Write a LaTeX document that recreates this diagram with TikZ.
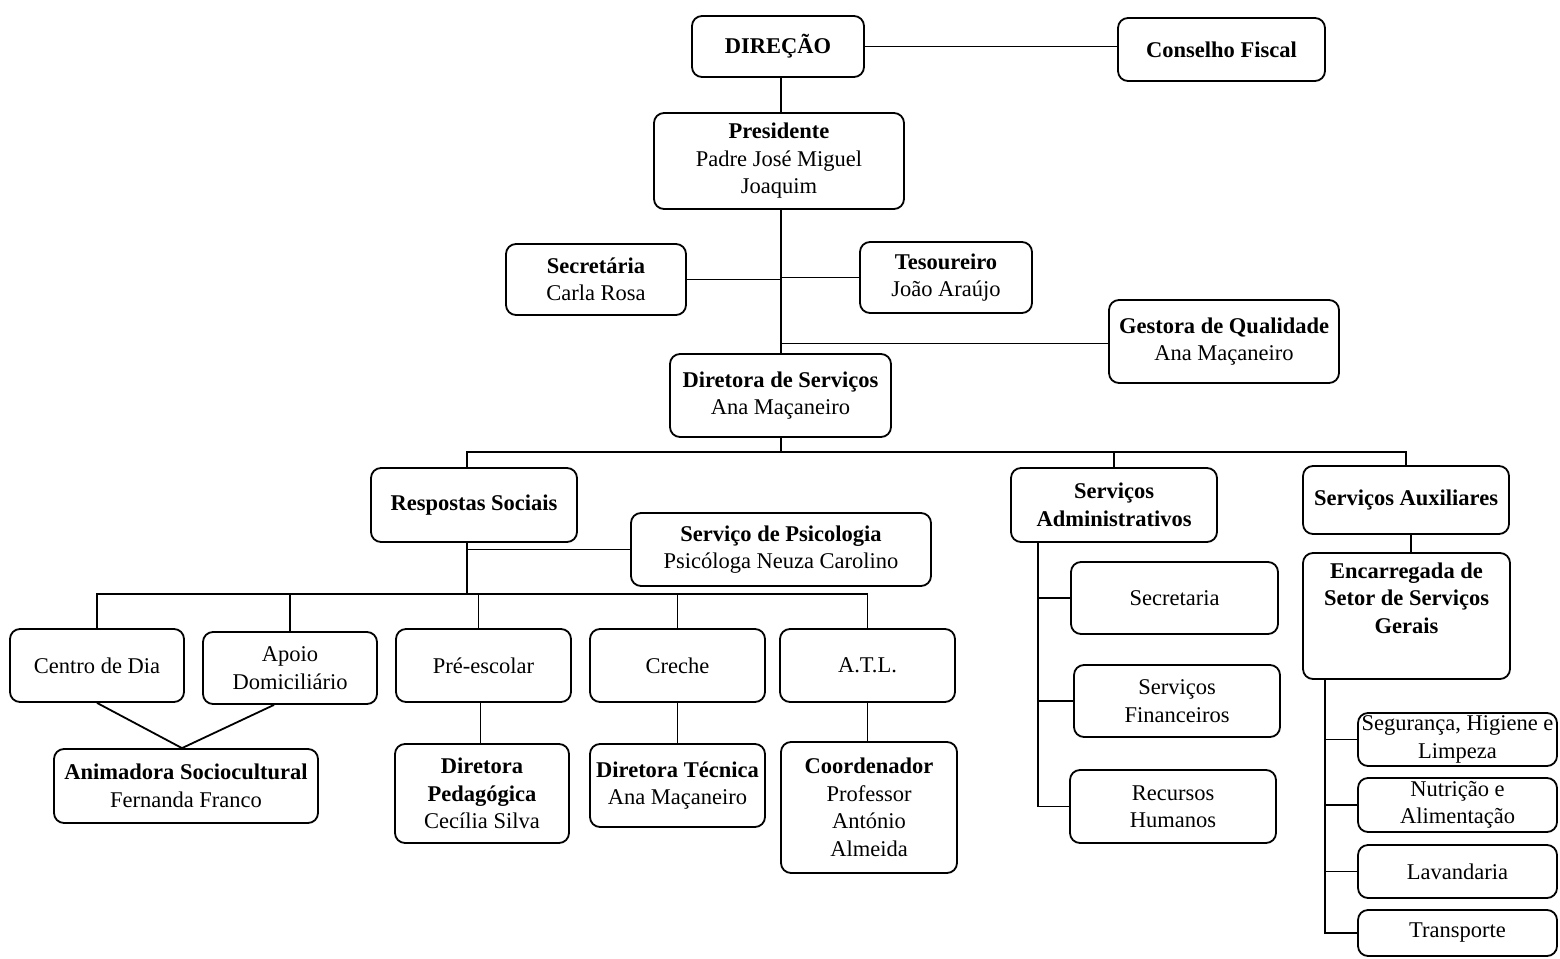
\documentclass[tikz,border=0pt]{standalone}
\usepackage{fontspec}
\setmainfont{Liberation Serif}
\newcommand\orgfont{\fontsize{22.5}{27.5}\selectfont}
\newcommand\orgbox[6]{\node[box,minimum width={(#4)-(#2)},minimum height={(#5)-(#3)}] (#1) at ({((#2)+(#4))/2},{((#3)+(#5))/2}) {#6};}
\begin{document}
\begin{tikzpicture}[x=1pt,y=-1pt,
  box/.style={draw=black, line width=1.8pt, rounded corners=10pt, inner sep=0pt, align=center, font=\orgfont},
  conn/.style={draw=black, line width=1.8pt}]
\useasboundingbox (0,0) rectangle (1560,958);
\orgbox{dir}{692}{16}{864}{77}{\textbf{DIREÇÃO}}
\orgbox{cf}{1118}{18}{1325}{81}{\textbf{Conselho Fiscal}}
\orgbox{pres}{654}{113}{904}{209}{\textbf{Presidente}\\Padre José Miguel\\Joaquim}
\orgbox{sec}{506}{244}{686}{315}{\textbf{Secretária}\\Carla Rosa}
\orgbox{tes}{860}{242}{1032}{313}{\textbf{Tesoureiro}\\João Araújo}
\orgbox{gq}{1109}{300}{1339}{383}{\textbf{Gestora de Qualidade}\\Ana Maçaneiro}
\orgbox{ds}{670}{354}{891}{437}{\textbf{Diretora de Serviços}\\Ana Maçaneiro}
\orgbox{rs}{371}{468}{577}{542}{\textbf{Respostas Sociais}}
\orgbox{psi}{631}{513}{931}{586}{\textbf{Serviço de Psicologia}\\Psicóloga Neuza Carolino}
\orgbox{sadm}{1011}{468}{1217}{542}{\textbf{Serviços}\\\textbf{Administrativos}}
\orgbox{saux}{1303}{466}{1509}{534}{\textbf{Serviços Auxiliares}}
\orgbox{cd}{10}{629}{184}{702}{Centro de Dia}
\orgbox{ad}{203}{632}{377}{704}{Apoio\\Domiciliário}
\orgbox{pe}{396}{629}{571}{702}{Pré-escolar}
\orgbox{cr}{590}{629}{765}{702}{Creche}
\orgbox{atl}{780}{629}{955}{702}{A.T.L.}
\orgbox{an}{54}{749}{318}{823}{\textbf{Animadora Sociocultural}\\Fernanda Franco}
\orgbox{dp}{395}{744}{569}{843}{\textbf{Diretora}\\\textbf{Pedagógica}\\Cecília Silva}
\orgbox{dt}{590}{744}{765}{827}{\textbf{Diretora Técnica}\\Ana Maçaneiro}
\orgbox{co}{781}{742}{957}{873}{\textbf{Coordenador}\\Professor\\António\\Almeida}
\orgbox{secr}{1071}{562}{1278}{634}{Secretaria}
\orgbox{sf}{1074}{665}{1280}{737}{Serviços\\Financeiros}
\orgbox{rh}{1070}{770}{1276}{843}{Recursos\\Humanos}
\orgbox{enc}{1303}{553}{1510}{679}{\raisebox{16pt}[\height][\depth]{\begin{tabular}{@{}c@{}}\textbf{Encarregada de}\\\textbf{Setor de Serviços}\\\textbf{Gerais}\end{tabular}}}
\orgbox{shl}{1358}{713}{1557}{766}{Segurança, Higiene e\\Limpeza}
\orgbox{na}{1358}{778}{1557}{832}{Nutrição e\\Alimentação}
\orgbox{lav}{1358}{845}{1557}{898}{Lavandaria}
\orgbox{tr}{1358}{910}{1557}{956}{Transporte}
% top connectors
\draw[conn] (dir.east) -- (dir.east -| cf.west);
\coordinate (tk) at (781,0);
\draw[conn] (tk |- dir.south) -- (tk |- pres.north);
\draw[conn] (tk |- pres.south) -- (tk |- ds.north);
\draw[conn] (sec.east) -- (sec.east -| tk);
\draw[conn] (tes.west) -- (tes.west -| tk);
\draw[conn] ([yshift=-2pt]gq.west) -- ([yshift=-2pt]gq.west -| tk);
% bus 1
\coordinate (b1) at (0,452);
\draw[conn] (tk |- ds.south) -- (tk |- b1);
\coordinate (rst) at ([xshift=-7pt]rs.south);
\draw[conn] (rst |- rs.north) -- (rst |- b1) -- (saux.north |- b1) -- (saux.north);
\draw[conn] (sadm.north) -- (sadm.north |- b1);
% bus 2
\coordinate (b2) at (0,594);
\draw[conn] (rst) -- (rst |- b2);
\draw[conn] (psi.west) -- (psi.west -| rst);
\draw[conn] (cd.north) -- (cd.north |- b2) -- (atl.north |- b2) -- (atl.north);
\draw[conn] (ad.north) -- (ad.north |- b2);
\draw[conn] ([xshift=-5pt]pe.north) -- ([xshift=-5pt]pe.north |- b2);
\draw[conn] (cr.north) -- (cr.north |- b2);
\draw[conn] (cd.south) -- ([xshift=-4pt]an.north) -- ([xshift=-16pt]ad.south);
\draw[conn] ([xshift=-3pt]pe.south) -- ([xshift=-3pt]pe.south |- dp.north);
\draw[conn] (cr.south) -- (cr.south |- dt.north);
\draw[conn] (atl.south) -- (atl.south |- co.north);
% administrative
\coordinate (st) at ([xshift=28pt]sadm.south west);
\draw[conn] (st) |- (rh.west);
\draw[conn] (secr.west) -- (secr.west -| st);
\draw[conn] (sf.west) -- (sf.west -| st);
% auxiliary
\draw[conn] ([xshift=5pt]saux.south) -- ([xshift=5pt]saux.south |- enc.north);
\coordinate (et) at ([xshift=23pt]enc.south west);
\draw[conn] (et) |- (tr.west);
\draw[conn] (shl.west) -- (shl.west -| et);
\draw[conn] (na.west) -- (na.west -| et);
\draw[conn] (lav.west) -- (lav.west -| et);
\end{tikzpicture}
\end{document}
